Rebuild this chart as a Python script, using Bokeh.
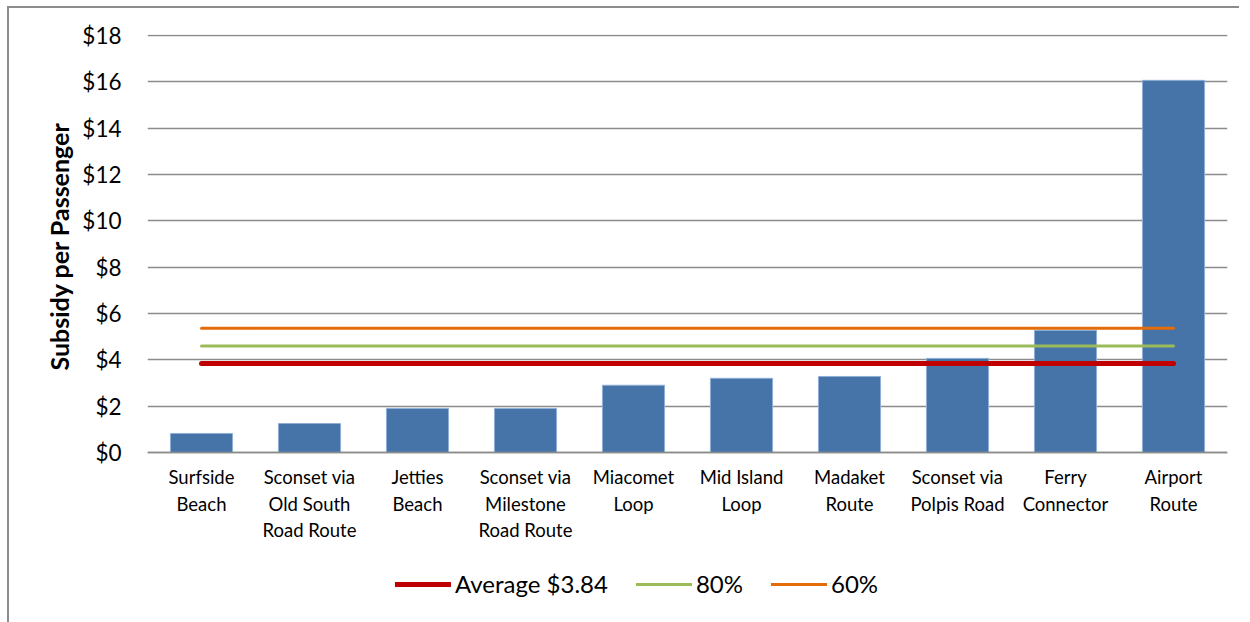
from bokeh.plotting import figure
from bokeh.models import (NumeralTickFormatter, FixedTicker, Legend, LegendItem,
                          Range1d, Title)
from bokeh.embed import file_html
from bokeh.resources import INLINE

# Subsidy per passenger by route
routes = [
    "Surfside\nBeach",
    "Sconset via\nOld South\nRoad Route",
    "Jetties\nBeach",
    "Sconset via\nMilestone\nRoad Route",
    "Miacomet\nLoop",
    "Mid Island\nLoop",
    "Madaket\nRoute",
    "Sconset via\nPolpis Road",
    "Ferry\nConnector",
    "Airport\nRoute",
]
subsidy = [0.82, 1.25, 1.90, 1.90, 2.90, 3.20, 3.28, 4.06, 5.27, 16.06]

# Reference levels
average_level = 3.84
level_80 = 4.60
level_60 = 5.36
y_ticks = [0, 2, 4, 6, 8, 10, 12, 14, 16, 18]

FONT = "Lato"

# The plot frame runs down to the bottom of the chart area so that the
# category labels and the legend sit inside it, below the $0 baseline.
p = figure(x_range=routes, frame_width=1080, frame_height=588,
           output_backend="svg", toolbar_location=None,
           min_border_left=138, min_border_right=12,
           min_border_top=26, min_border_bottom=0,
           styles={"margin-left": "7px", "margin-top": "6px",
                   "border-left": "2px solid #8c8c8c",
                   "border-top": "2px solid #8c8c8c"})
p.y_range = Range1d(-7.34, 18.04)
p.outline_line_color = None
p.background_fill_color = "white"
p.border_fill_color = "white"

p.vbar(x=routes, top=subsidy, width=0.575, fill_color="#4674a9",
       line_color="#8fb0d6", line_width=1)

line_x = [routes[0], routes[-1]]
r_avg = p.line(line_x, [average_level, average_level], line_color="#c00000",
               line_width=5, line_cap="round")
r_80 = p.line(line_x, [level_80, level_80], line_color="#9bbb59",
              line_width=3, line_cap="round")
r_60 = p.line(line_x, [level_60, level_60], line_color="#e46c0a",
              line_width=3, line_cap="round")

# value axis
p.yaxis.ticker = FixedTicker(ticks=y_ticks)
p.yaxis.formatter = NumeralTickFormatter(format="$0")
p.yaxis.axis_line_color = None
p.yaxis.major_tick_line_color = None
p.yaxis.minor_tick_line_color = None
p.yaxis.major_label_standoff = 20
p.yaxis.major_label_text_font = FONT
p.yaxis.major_label_text_font_size = "22.5px"
p.yaxis.major_label_text_color = "black"

# value-axis title, centred on the $0-$18 span rather than the whole frame
p.add_layout(Title(text="Subsidy per Passenger", align="left", offset=252,
                   text_font=FONT, text_font_size="25px",
                   text_font_style="bold", text_color="black",
                   standoff=12), "left")

# category axis pinned to the $0 baseline
p.xaxis.fixed_location = 0
p.xaxis.axis_line_color = "#8c8c8c"
p.xaxis.axis_line_width = 1.5
p.xaxis.major_tick_line_color = None
p.xaxis.minor_tick_line_color = None
p.xaxis.major_label_standoff = 8
p.xaxis.major_label_text_font = FONT
p.xaxis.major_label_text_font_size = "18.5px"
p.xaxis.major_label_text_color = "black"
p.xaxis.major_label_text_line_height = 1.2

p.xgrid.grid_line_color = None
p.ygrid.grid_line_color = "#8c8c8c"
p.ygrid.grid_line_width = 1.5

legend = Legend(items=[
    LegendItem(label="Average $3.84", renderers=[r_avg]),
    LegendItem(label="80%", renderers=[r_80]),
    LegendItem(label="60%", renderers=[r_60]),
], orientation="horizontal", location=(248, 24))
legend.border_line_color = None
legend.background_fill_alpha = 0
legend.label_text_font = FONT
legend.label_text_font_size = "24px"
legend.label_text_color = "black"
legend.glyph_width = 56
legend.label_standoff = 4
legend.spacing = 28
legend.padding = 0
legend.margin = 0
p.add_layout(legend, "center")

open("out.html", "w").write(file_html(p, INLINE))
